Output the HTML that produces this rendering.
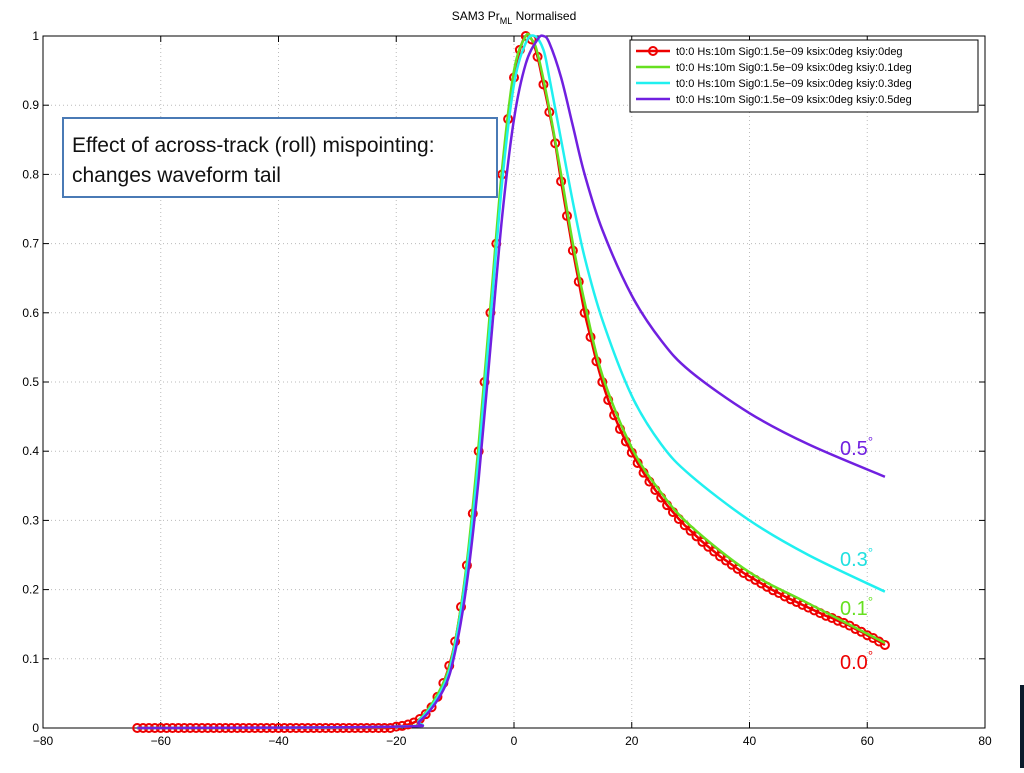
<!DOCTYPE html>
<html><head><meta charset="utf-8"><style>
body{margin:0;background:#fff;width:1024px;height:768px;overflow:hidden;font-family:"Liberation Sans",sans-serif}
</style></head><body>
<svg id="chart" width="1024" height="768" xmlns="http://www.w3.org/2000/svg" font-family="Liberation Sans, sans-serif">
<text x="514" y="20" font-size="12" text-anchor="middle">SAM3 Pr<tspan font-size="9" dy="4">ML</tspan><tspan dy="-4"> Normalised</tspan></text>
<g id="grid"></g><g id="axes"></g><g id="series"></g>
<g>
<rect x="630" y="40" width="348" height="72" fill="#fff" stroke="#000" stroke-width="1"/>
<line x1="636" y1="51" x2="670" y2="51" stroke="#e00" stroke-width="2.5"/><circle cx="653" cy="51" r="4" fill="none" stroke="#e00" stroke-width="2"/>
<text x="676" y="55" font-size="11">t0:0 Hs:10m Sig0:1.5e−09 ksix:0deg ksiy:0deg</text>
<line x1="636" y1="67" x2="670" y2="67" stroke="#66e020" stroke-width="2.5"/>
<text x="676" y="71" font-size="11">t0:0 Hs:10m Sig0:1.5e−09 ksix:0deg ksiy:0.1deg</text>
<line x1="636" y1="83" x2="670" y2="83" stroke="#20f0f0" stroke-width="2.5"/>
<text x="676" y="87" font-size="11">t0:0 Hs:10m Sig0:1.5e−09 ksix:0deg ksiy:0.3deg</text>
<line x1="636" y1="99" x2="670" y2="99" stroke="#7020e0" stroke-width="2.5"/>
<text x="676" y="103" font-size="11">t0:0 Hs:10m Sig0:1.5e−09 ksix:0deg ksiy:0.5deg</text>
</g>
<g>
<rect x="63" y="118" width="434" height="79" fill="#fff" stroke="#4a7ab5" stroke-width="2"/>
<text x="72" y="152" font-size="21" fill="#111">Effect of across-track (roll) mispointing:</text>
<text x="72" y="182" font-size="21" fill="#111">changes waveform tail</text>
</g>
<text x="840" y="455" font-size="20" fill="#7020e0">0.5<tspan font-size="13" dy="-9">°</tspan></text>
<text x="840" y="566" font-size="20" fill="#20e0e0">0.3<tspan font-size="13" dy="-9">°</tspan></text>
<text x="840" y="615" font-size="20" fill="#66e020">0.1<tspan font-size="13" dy="-9">°</tspan></text>
<text x="840" y="669" font-size="20" fill="#e00">0.0<tspan font-size="13" dy="-9">°</tspan></text>
<rect x="1020" y="685" width="4" height="83" fill="#0a1a2a"/>
</svg>
<script>
const xTicks=[-80,-60,-40,-20,0,20,40,60,80];
const yTicks=[0,0.1,0.2,0.3,0.4,0.5,0.6,0.7,0.8,0.9,1];
const yTickLabels=["0","0.1","0.2","0.3","0.4","0.5","0.6","0.7","0.8","0.9","1"];
const redStart=-64;
const redVals=[0,0,0,0,0,0,0,0,0,0,0,0,0,0,0,0,0,0,0,0,0,0,0,0,0,0,0,0,0,0,0,0,0,0,0,0,0,0,0,0,0,0,0,0,
0.002,0.003,0.005,0.008,0.013,0.02,0.03,0.045,0.065,0.09,0.125,0.175,0.235,0.31,0.40,0.50,0.60,0.70,0.80,0.88,
0.94,0.98,1.0,0.995,0.97,0.93,0.89,0.845,0.79,0.74,0.69,0.645,0.60,0.565,0.53,0.50,0.474,0.452,0.432,0.414,
0.398,0.383,0.369,0.356,0.344,0.333,0.322,0.312,0.302,0.293,0.285,0.277,0.269,0.262,0.255,0.248,0.242,0.236,0.230,0.224,
0.219,0.214,0.209,0.204,0.199,0.195,0.190,0.186,0.182,0.178,0.174,0.170,0.166,0.162,0.159,0.155,0.152,0.148,0.143,0.139,
0.134,0.130,0.125,0.120];
const greenX=[-64,-20,-16,-12,-10,-8,-6,-4,-2,0,2,3,4,6,8,10,12,15,20,25,30,40,50,63];
const greenY=[0,0.002,0.013,0.065,0.125,0.24,0.41,0.61,0.81,0.95,1.0,0.995,0.975,0.895,0.8,0.7,0.615,0.51,0.405,0.34,0.292,0.225,0.18,0.123];
const cyanX=[-64,-20,-16,-12,-10,-8,-6,-4,-2,0,2,3.5,5,6,8,10,12,15,20,25,30,40,50,63];
const cyanY=[0,0.002,0.012,0.06,0.12,0.23,0.39,0.59,0.79,0.93,0.99,1.0,0.98,0.94,0.85,0.76,0.68,0.59,0.48,0.41,0.365,0.30,0.25,0.197];
const purpleX=[-64,-20,-16,-12,-10,-8,-6,-4,-2,0,2,4,5,6,8,10,12,15,20,25,30,40,50,63];
const purpleY=[0,0.002,0.01,0.055,0.11,0.21,0.36,0.55,0.74,0.88,0.96,0.995,1.0,0.99,0.94,0.87,0.80,0.72,0.625,0.56,0.515,0.455,0.41,0.363];
const X0=43,X1=985,Y0=728,Y1=36;
const sx=v=>X0+(v+80)/160*(X1-X0), sy=v=>Y0-v*(Y0-Y1);
const NS="http://www.w3.org/2000/svg";
function mk(p,tag,at){const e=document.createElementNS(NS,tag);for(const k in at)e.setAttribute(k,at[k]);p.appendChild(e);return e;}
const grid=document.getElementById('grid'),axes=document.getElementById('axes'),ser=document.getElementById('series');
xTicks.forEach(t=>{const x=sx(t);
 if(t>-80&&t<80){const g=mk(grid,'line',{x1:x,y1:Y1,x2:x,y2:Y0,stroke:'#bbb','stroke-dasharray':'1 3'});
 
 }
 mk(axes,'line',{x1:x,y1:Y0,x2:x,y2:Y0-6,stroke:'#000'});mk(axes,'line',{x1:x,y1:Y1,x2:x,y2:Y1+6,stroke:'#000'});
 const l=mk(axes,'text',{x:x,y:Y0+17,'font-size':12,'text-anchor':'middle'});l.textContent=t<0?'\u2212'+(-t):t;
 
 });
yTicks.forEach((t,i)=>{const y=sy(t);
 if(t>0&&t<1){const g=mk(grid,'line',{x1:X0,y1:y,x2:X1,y2:y,stroke:'#bbb','stroke-dasharray':'1 3'});
 
 }
 mk(axes,'line',{x1:X0,y1:y,x2:X0+6,y2:y,stroke:'#000'});mk(axes,'line',{x1:X1,y1:y,x2:X1-6,y2:y,stroke:'#000'});
 const l=mk(axes,'text',{x:X0-4,y:y+4,'font-size':12,'text-anchor':'end'});l.textContent=yTickLabels[i];
 
 });
const fr=mk(axes,'rect',{x:X0,y:Y1,width:X1-X0,height:Y0-Y1,fill:'none',stroke:'#000'});


function smooth(xs,ys){const P=xs.map((x,i)=>[sx(x),sy(ys[i])]);let d='M'+P[0][0]+','+P[0][1];
 for(let i=0;i<P.length-1;i++){const p0=P[Math.max(0,i-1)],p1=P[i],p2=P[i+1],p3=P[Math.min(P.length-1,i+2)];
 d+=' C'+(p1[0]+(p2[0]-p0[0])/6)+','+(p1[1]+(p2[1]-p0[1])/6)+' '+(p2[0]-(p3[0]-p1[0])/6)+','+(p2[1]-(p3[1]-p1[1])/6)+' '+p2[0]+','+p2[1];}return d;}
const redX=redVals.map((v,i)=>redStart+i);
const rl=mk(ser,'path',{d:smooth(redX,redVals),fill:'none',stroke:'#e00','stroke-width':2.5});


redVals.forEach((v,i)=>{const c=mk(ser,'circle',{cx:sx(redX[i]),cy:sy(v),r:4,fill:'none',stroke:'#e00','stroke-width':2});
 
 });
[[greenX,greenY,'#66e020','series-ksiy-0.1'],[cyanX,cyanY,'#20f0f0','series-ksiy-0.3'],[purpleX,purpleY,'#7020e0','series-ksiy-0.5']].forEach(s=>{
 const p=mk(ser,'path',{d:smooth(s[0],s[1]),fill:'none',stroke:s[2],'stroke-width':2.5});
 
 });
</script>
</body></html>
